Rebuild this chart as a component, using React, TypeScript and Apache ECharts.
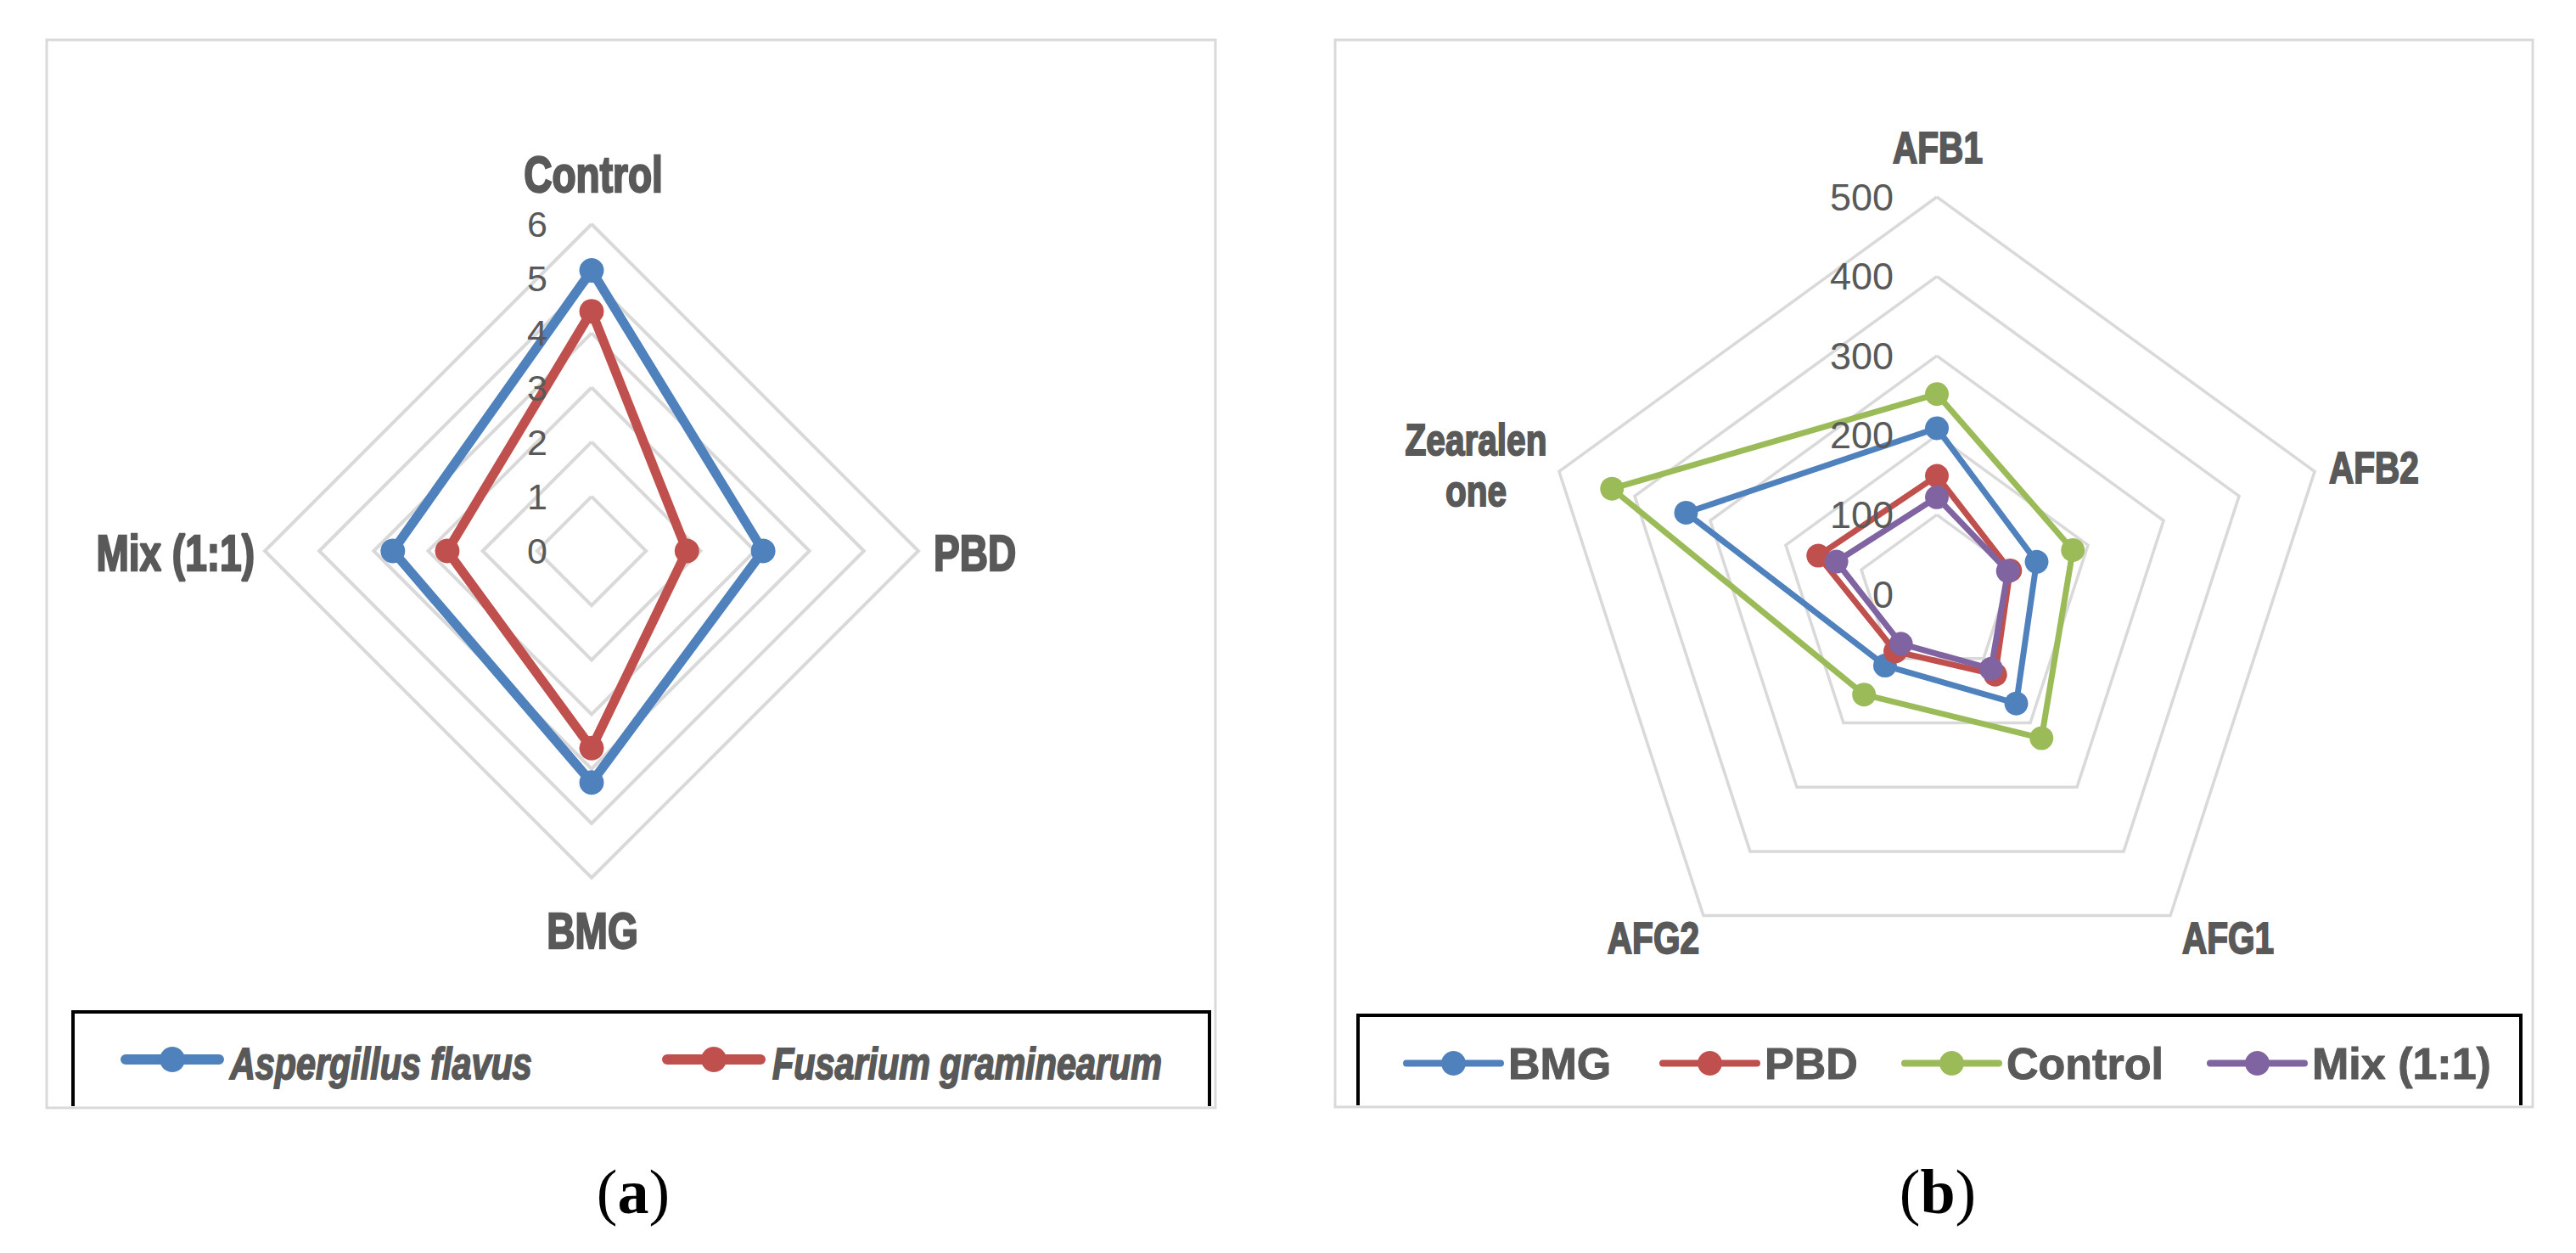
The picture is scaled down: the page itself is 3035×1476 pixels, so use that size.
import React, { useEffect, useRef } from 'react';
import * as echarts from 'echarts';

// ---------- Data: panel (a) ----------
const categoriesA = ['Control', 'PBD', 'BMG', 'Mix (1:1)'];
const aspergillusFlavus = [5.15, 3.15, 4.25, 3.65];
const fusariumGraminearum = [4.4, 1.75, 3.62, 2.65];
const ticksA = [0, 1, 2, 3, 4, 5, 6];
const seriesNamesA = ['Aspergillus flavus', 'Fusarium graminearum'];

// ---------- Data: panel (b) ----------
const categoriesB = ['AFB1', 'AFB2', 'AFG1', 'AFG2', 'Zearalenone'];
const valuesBMG = [209, 132, 170, 111, 332];
const valuesPBD = [149, 97, 125, 89, 157];
const valuesControl = [252, 180, 224, 156, 430];
const valuesMix = [122, 94, 116, 77, 133];
const ticksB = [0, 100, 200, 300, 400, 500];
const seriesNamesB = ['BMG', 'PBD', 'Control', 'Mix (1:1)'];

// ---------- Styling / layout (not data) ----------
const BLUE = '#4F81BD';
const RED = '#C0504D';
const GREEN = '#9BBB59';
const PURPLE = '#8064A2';
const TEXT = '#595959';
const GRID = '#D9D9D9';

const SANS = "'Liberation Sans', Arial, sans-serif";
const SERIF = "'Liberation Serif', 'DejaVu Serif', serif";

const RADAR_A = { cx: 697, cy: 649, r: 385 };
const RADAR_B = { cx: 2282, cy: 700, r: 468 };

// label anchors (cap-centre), alignment
const labelLayoutA: Record<string, { x: number; y: number; align: string }> = {
  Control: { x: 699, y: 205, align: 'center' },
  PBD: { x: 1100, y: 651, align: 'left' },
  BMG: { x: 698, y: 1096, align: 'center' },
  'Mix (1:1)': { x: 300, y: 651, align: 'right' },
};
const labelLayoutB: Record<string, { x: number; y: number; align: string }> = {
  AFB1: { x: 2283, y: 174, align: 'center' },
  AFB2: { x: 2744, y: 551, align: 'left' },
  AFG1: { x: 2571, y: 1105, align: 'left' },
  AFG2: { x: 2002, y: 1105, align: 'right' },
  Zearalenone: { x: 1739, y: 548, align: 'center' },
};

// ECharts places radar indicators counter-clockwise; Excel goes clockwise.
const ccw = <T,>(arr: T[]): T[] => [arr[0], ...arr.slice(1).reverse()];

const wrapName = (s: string) => (s === 'Zearalenone' ? 'Zearalen\none' : s);

const lineIcon = (w: number, h: number, t: number) => {
  const c = h / 2;
  const r = t / 2;
  const R = h / 2;
  const m = w / 2;
  return (
    `path://M${r},${c - r} L${w - r},${c - r} A${r},${r} 0 0 1 ${w - r},${c + r} ` +
    `L${r},${c + r} A${r},${r} 0 0 1 ${r},${c - r} Z ` +
    `M${m},0 A${R},${R} 0 1 1 ${m - 0.01},0 Z`
  );
};

export default function App() {
  const ref = useRef<HTMLDivElement>(null);

  useEffect(() => {
    if (!ref.current) return;
    const chart = echarts.init(ref.current, undefined, { renderer: 'svg' });

    const maxA = ticksA[ticksA.length - 1];
    const maxB = ticksB[ticksB.length - 1];

    const indicatorsA = ccw(categoriesA).map((name) => ({ name, min: 0, max: maxA }));
    const indicatorsB = ccw(categoriesB).map((name) => ({ name, min: 0, max: maxB }));

    const iconA = lineIcon(122, 30, 12);
    const iconB = lineIcon(119, 29, 8);

    const legendA = (name: string, left: number) => ({
      show: true,
      left,
      top: 1233,
      padding: 0,
      selectedMode: false,
      itemWidth: 122,
      itemHeight: 30,
      data: [{ name, icon: iconA }],
      formatter: () => '',
      textStyle: { fontSize: 16, color: TEXT },
    });
    const legendB = (name: string, left: number) => ({
      show: true,
      left,
      top: 1226,
      padding: 0,
      selectedMode: false,
      itemWidth: 119,
      itemHeight: 29,
      data: [{ name, icon: iconB }],
      textStyle: {
        fontSize: 52,
        fontWeight: 'bold',
        fontFamily: SANS,
        color: TEXT,
        textBorderColor: TEXT,
        textBorderWidth: 1,
      },
    });

    const radarSeries = (
      radarIndex: number,
      name: string,
      values: number[],
      color: string,
      width: number,
      size: number
    ) => ({
      type: 'radar',
      radarIndex,
      name,
      z: 3,
      symbol: 'circle',
      symbolSize: size,
      itemStyle: { color },
      lineStyle: { color, width, join: 'round' },
      data: [{ name, value: ccw(values) }],
    });

    const radarBase = {
      startAngle: 90,
      shape: 'polygon',
      axisName: { show: false },
      axisLine: { show: false },
      axisTick: { show: false },
      axisLabel: { show: false },
      splitArea: { show: false },
    };

    // tick labels along the first (top) axis
    const tickTexts = (
      ticks: number[],
      max: number,
      geo: { cx: number; cy: number; r: number },
      rightX: number,
      fontSize: number
    ) =>
      ticks.map((t) => ({
        type: 'text',
        x: rightX,
        y: geo.cy - (geo.r * t) / max,
        z: 5,
        style: {
          text: String(t),
          fontSize,
          fontFamily: SANS,
          fill: TEXT,
          align: 'right',
          verticalAlign: 'middle',
        },
      }));

    const categoryTexts = (
      cats: string[],
      layout: Record<string, { x: number; y: number; align: string }>,
      fontSize: number,
      lineHeight: number,
      border: number
    ) =>
      cats.map((c) => ({
        type: 'text',
        x: layout[c].x,
        y: layout[c].y,
        scaleX: 0.78,
        z: 4,
        style: {
          text: wrapName(c),
          fontSize,
          fontWeight: 'bold',
          fontFamily: SANS,
          fill: TEXT,
          stroke: TEXT,
          lineWidth: border,
          align: layout[c].align,
          verticalAlign: 'middle',
          lineHeight,
        },
      }));

    const legendTextA = (name: string, x: number) => ({
      type: 'text',
      x,
      y: 1253,
      scaleX: 0.81,
      z: 4,
      style: {
        text: name,
        fontSize: 51,
        fontWeight: 'bold',
        fontStyle: 'italic',
        fontFamily: SANS,
        fill: TEXT,
        stroke: TEXT,
        lineWidth: 1.8,
        align: 'left',
        verticalAlign: 'middle',
      },
    });

    const panelLabel = (letter: string, x: number) => ({
      type: 'text',
      x,
      y: 1404,
      style: {
        text: `{p|(}{b|${letter}}{p|)}`,
        align: 'center',
        verticalAlign: 'middle',
        rich: {
          p: { fontFamily: SERIF, fontSize: 74, fill: '#000' },
          b: { fontFamily: SERIF, fontSize: 74, fontWeight: 'bold', fill: '#000' },
        },
      },
    });

    const option: any = {
      animation: false,
      backgroundColor: '#ffffff',
      radar: [
        {
          ...radarBase,
          center: [RADAR_A.cx, RADAR_A.cy],
          radius: RADAR_A.r,
          splitNumber: ticksA.length - 1,
          indicator: indicatorsA,
          splitLine: { lineStyle: { color: GRID, width: 4 } },
        },
        {
          ...radarBase,
          center: [RADAR_B.cx, RADAR_B.cy],
          radius: RADAR_B.r,
          splitNumber: ticksB.length - 1,
          indicator: indicatorsB,
          splitLine: { lineStyle: { color: GRID, width: 3.5 } },
        },
      ],
      legend: [
        legendA(seriesNamesA[0], 142),
        legendA(seriesNamesA[1], 780),
        legendB(seriesNamesB[0], 1653),
        legendB(seriesNamesB[1], 1955),
        legendB(seriesNamesB[2], 2240),
        legendB(seriesNamesB[3], 2600),
      ],
      series: [
        radarSeries(0, seriesNamesA[0], aspergillusFlavus, BLUE, 11, 29),
        radarSeries(0, seriesNamesA[1], fusariumGraminearum, RED, 11, 29),
        radarSeries(1, seriesNamesB[0], valuesBMG, BLUE, 7, 28),
        radarSeries(1, seriesNamesB[1], valuesPBD, RED, 7, 28),
        radarSeries(1, seriesNamesB[2], valuesControl, GREEN, 7, 28),
        radarSeries(1, seriesNamesB[3], valuesMix, PURPLE, 7, 28),
      ],
      graphic: [
        // panel frames
        {
          type: 'rect',
          shape: { x: 55, y: 47, width: 1377, height: 1258 },
          style: { fill: 'none', stroke: GRID, lineWidth: 3 },
          z: 0,
        },
        {
          type: 'rect',
          shape: { x: 1573, y: 47, width: 1411, height: 1257 },
          style: { fill: 'none', stroke: GRID, lineWidth: 3 },
          z: 0,
        },
        // legend boxes (bottom edge hidden by the frame)
        {
          type: 'polyline',
          shape: { points: [[86, 1303], [86, 1192], [1425, 1192], [1425, 1303]] },
          style: { fill: 'none', stroke: '#000', lineWidth: 4 },
          z: 1,
        },
        {
          type: 'polyline',
          shape: { points: [[1600, 1302], [1600, 1196], [2970, 1196], [2970, 1302]] },
          style: { fill: 'none', stroke: '#000', lineWidth: 4 },
          z: 1,
        },
        ...tickTexts(ticksA, maxA, RADAR_A, 645, 43),
        ...tickTexts(ticksB, maxB, RADAR_B, 2231, 45),
        ...categoryTexts(categoriesA, labelLayoutA, 59, 70, 2.4),
        ...categoryTexts(categoriesB, labelLayoutB, 52, 60, 2),
        legendTextA(seriesNamesA[0], 271),
        legendTextA(seriesNamesA[1], 910),
        panelLabel('a', 746),
        panelLabel('b', 2283),
      ],
    };

    chart.setOption(option);
    return () => chart.dispose();
  }, []);

  return (
    <div
      ref={ref}
      style={{
        position: 'fixed',
        left: 0,
        top: 0,
        width: 3035,
        height: 1476,
        background: '#ffffff',
      }}
    />
  );
}
